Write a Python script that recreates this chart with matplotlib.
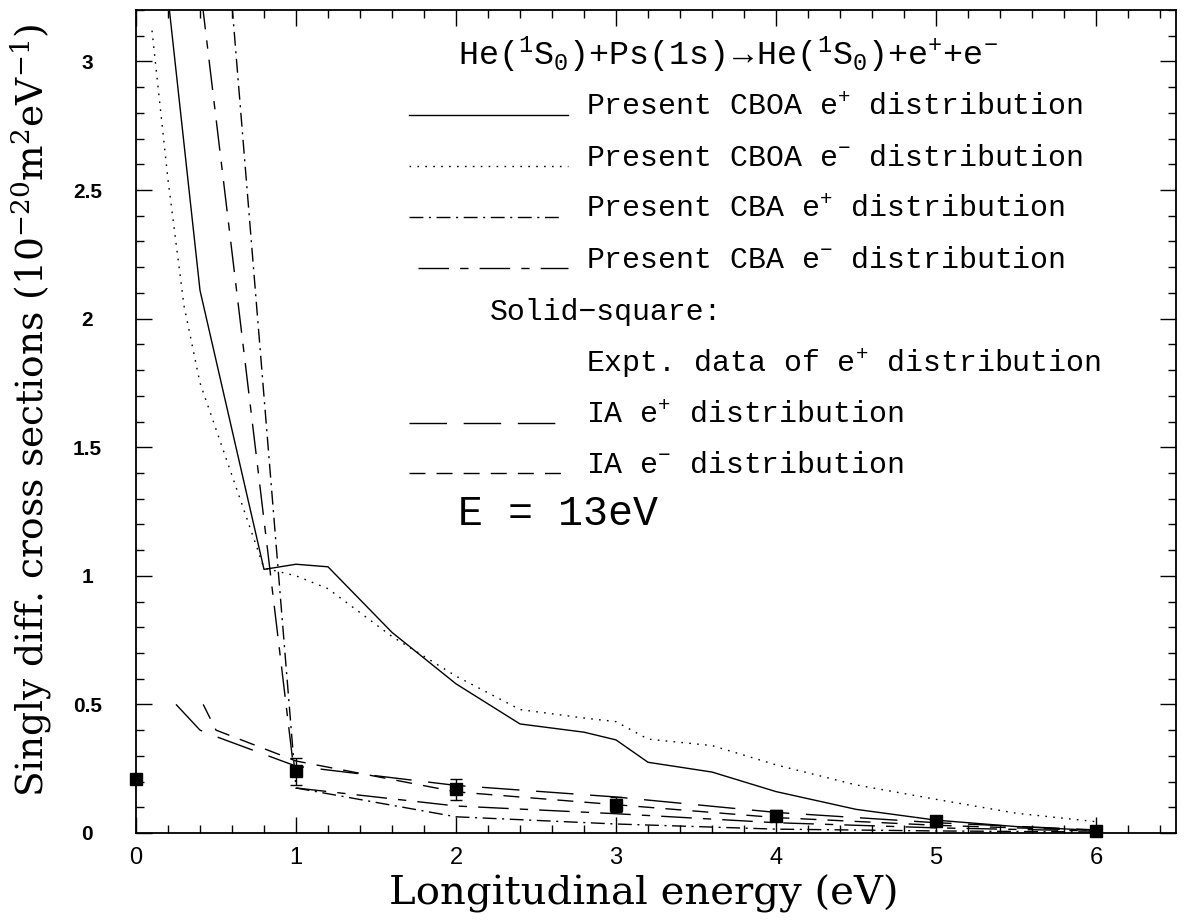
import matplotlib
matplotlib.use("Agg")
import matplotlib.pyplot as plt
from matplotlib.lines import Line2D
from matplotlib.ticker import MultipleLocator

# ---------------- data ----------------
x_cboa_pos = [0.2, 0.4, 0.8, 1.0, 1.2, 1.6, 2.0, 2.4, 2.8, 3.0, 3.2, 3.6, 4.0, 4.5, 5.0, 5.5, 6.0]
y_cboa_pos = [3.25, 2.11, 1.025, 1.045, 1.035, 0.78, 0.58, 0.424, 0.392, 0.362, 0.275, 0.237,
              0.161, 0.092, 0.05, 0.025, 0.01]

x_cboa_neg = [0.1, 0.2, 0.3, 0.4, 0.8, 1.0, 1.2, 1.6, 2.0, 2.4, 2.8, 3.0, 3.2, 3.6, 4.0, 4.5, 5.0, 5.5, 6.0]
y_cboa_neg = [3.12, 2.54, 2.05, 1.75, 1.03, 1.0, 0.95, 0.764, 0.61, 0.48, 0.447, 0.433, 0.365,
              0.34, 0.265, 0.187, 0.131, 0.077, 0.044]

x_cba_pos = [0.6, 1.0, 2.0, 3.0, 4.0, 5.0, 6.0]
y_cba_pos = [3.22, 0.175, 0.063, 0.035, 0.015, 0.008, 0.004]

x_cba_neg = [0.4, 1.0, 2.0, 3.0, 4.0, 5.0, 6.0]
y_cba_neg = [3.3, 0.175, 0.105, 0.075, 0.04, 0.02, 0.008]

x_ia_pos = [0.25, 0.4, 0.5, 1.0, 2.0, 3.0, 4.0, 5.0, 6.0]
y_ia_pos = [0.50, 0.40, 0.375, 0.26, 0.185, 0.14, 0.08, 0.04, 0.012]

x_ia_neg = [0.42, 0.5, 1.0, 2.0, 3.0, 4.0, 5.0, 6.0]
y_ia_neg = [0.50, 0.40, 0.28, 0.16, 0.11, 0.06, 0.03, 0.01]

x_expt = [0, 1, 2, 3, 4, 5, 6]
y_expt = [0.21, 0.24, 0.17, 0.11, 0.068, 0.047, 0.009]
err_expt = [0.0, 0.052, 0.04, 0.03, 0.021, 0.021, 0.02]

xtick_vals = [0, 1, 2, 3, 4, 5, 6]
xtick_labels = ["0", "1", "2", "3", "4", "5", "6"]
ytick_vals = [0, 0.5, 1, 1.5, 2, 2.5, 3]
ytick_labels = ["0", "0.5", "1", "1.5", "2", "2.5", "3"]

title_text = r"He($^{1}$S$_{0}$)+Ps(1s)$\rightarrow$He($^{1}$S$_{0}$)+e$^{+}$+e$^{-}$"
lab_cboa_pos = r"Present CBOA e$^{+}$ distribution"
lab_cboa_neg = r"Present CBOA e$^{-}$ distribution"
lab_cba_pos = r"Present CBA e$^{+}$ distribution"
lab_cba_neg = r"Present CBA e$^{-}$ distribution"
lab_square = "Solid\u2212square:"
lab_expt = r"Expt. data of e$^{+}$ distribution"
lab_ia_pos = r"IA e$^{+}$ distribution"
lab_ia_neg = r"IA e$^{-}$ distribution"
energy_text = "E = 13eV"
xlabel_text = "Longitudinal energy (eV)"
ylabel_text = r"Singly diff. cross sections (10$^{-20}$m$^{2}$eV$^{-1}$)"

# ---------------- style ----------------
plt.rcParams["mathtext.fontset"] = "custom"
plt.rcParams["mathtext.rm"] = "Liberation Mono"
plt.rcParams["mathtext.it"] = "Liberation Mono"
plt.rcParams["mathtext.bf"] = "Liberation Mono:bold"

ls_cboa_pos = "-"
ls_cboa_neg = (0, (1.2, 4.5))
ls_cba_pos = (0, (10, 4, 1.5, 4))
ls_cba_neg = (0, (22, 8, 6, 8))
ls_ia_pos = (0, (27, 12))
ls_ia_neg = (0, (11.5, 8))
LW = 1.0

W, H = 1184, 923
fig = plt.figure(figsize=(W / 100, H / 100), dpi=100)
ax = fig.add_axes([136 / W, 1 - 833 / H, 1040 / W, 823 / H])

series = [
    (x_cboa_pos, y_cboa_pos, ls_cboa_pos),
    (x_cboa_neg, y_cboa_neg, ls_cboa_neg),
    (x_cba_pos, y_cba_pos, ls_cba_pos),
    (x_cba_neg, y_cba_neg, ls_cba_neg),
    (x_ia_pos, y_ia_pos, ls_ia_pos),
    (x_ia_neg, y_ia_neg, ls_ia_neg),
]
for xs, ys, ls in series:
    ax.plot(xs, ys, color="black", lw=LW, linestyle=ls)

eb = ax.errorbar(x_expt, y_expt, yerr=err_expt, fmt="s", color="black", ms=8,
                 capsize=4.5, elinewidth=1.0, capthick=1.0)
eb.lines[0].set_clip_on(False)
eb.lines[0].set_zorder(5)

ax.set_xlim(0, 6.5)
ax.set_ylim(0, 3.2)

ax.set_xticks(xtick_vals)
ax.set_xticklabels(xtick_labels, fontfamily="Liberation Sans", fontsize=17)
ax.set_yticks(ytick_vals)
ax.set_yticklabels(ytick_labels, fontfamily="Liberation Sans", fontsize=15,
                   fontweight="bold", ha="center")
ax.xaxis.set_minor_locator(MultipleLocator(0.2))
ax.yaxis.set_minor_locator(MultipleLocator(0.1))
ax.tick_params(which="both", direction="in", top=True, right=True, width=1.0)
ax.tick_params(which="major", length=11.5)
ax.tick_params(which="minor", length=5.8)
ax.tick_params(axis="x", which="major", pad=10)
ax.tick_params(axis="y", which="major", pad=35)
for s in ax.spines.values():
    s.set_linewidth(1.3)

ax.set_xlabel(xlabel_text, fontfamily="DejaVu Serif", fontsize=29, va="baseline")
ax.xaxis.set_label_coords(0.4885, -0.0863)
ax.set_ylabel(ylabel_text, fontfamily="DejaVu Serif", fontsize=27,
              math_fontfamily="dejavuserif", va="baseline")
ax.yaxis.set_label_coords(-0.0894, 0.514)

# ---------------- legend block (axes fraction) ----------------
def fx(px):
    return (px - 136) / 1040

def fy(py):
    return (833 - py) / 823

tkw = dict(transform=ax.transAxes, fontfamily="Liberation Mono", fontsize=21.5,
           va="baseline", ha="left", math_fontfamily="custom")

ax.text(fx(458), fy(65), title_text, **dict(tkw, fontsize=24))

legend_rows = [
    (ls_cboa_pos, 409, 568, 115, lab_cboa_pos),
    (ls_cboa_neg, 409, 568, 166, lab_cboa_neg),
    (ls_cba_pos, 409, 563, 217, lab_cba_pos),
    (ls_cba_neg, 418, 568, 268, lab_cba_neg),
    (ls_ia_pos, 409, 557, 423, lab_ia_pos),
    (ls_ia_neg, 409, 568, 473, lab_ia_neg),
]
for ls, x0, x1, py, lab in legend_rows:
    ax.add_line(Line2D([fx(x0), fx(x1)], [fy(py), fy(py)], transform=ax.transAxes,
                       color="black", lw=LW, linestyle=ls, clip_on=False))
    ax.text(fx(586), fy(py), lab, **tkw)

ax.text(fx(490), fy(320), lab_square, **tkw)
ax.text(fx(586), fy(372), lab_expt, **tkw)
ax.text(fx(458), fy(525), energy_text, **dict(tkw, fontsize=30))

fig.savefig("out.png", dpi=100)
